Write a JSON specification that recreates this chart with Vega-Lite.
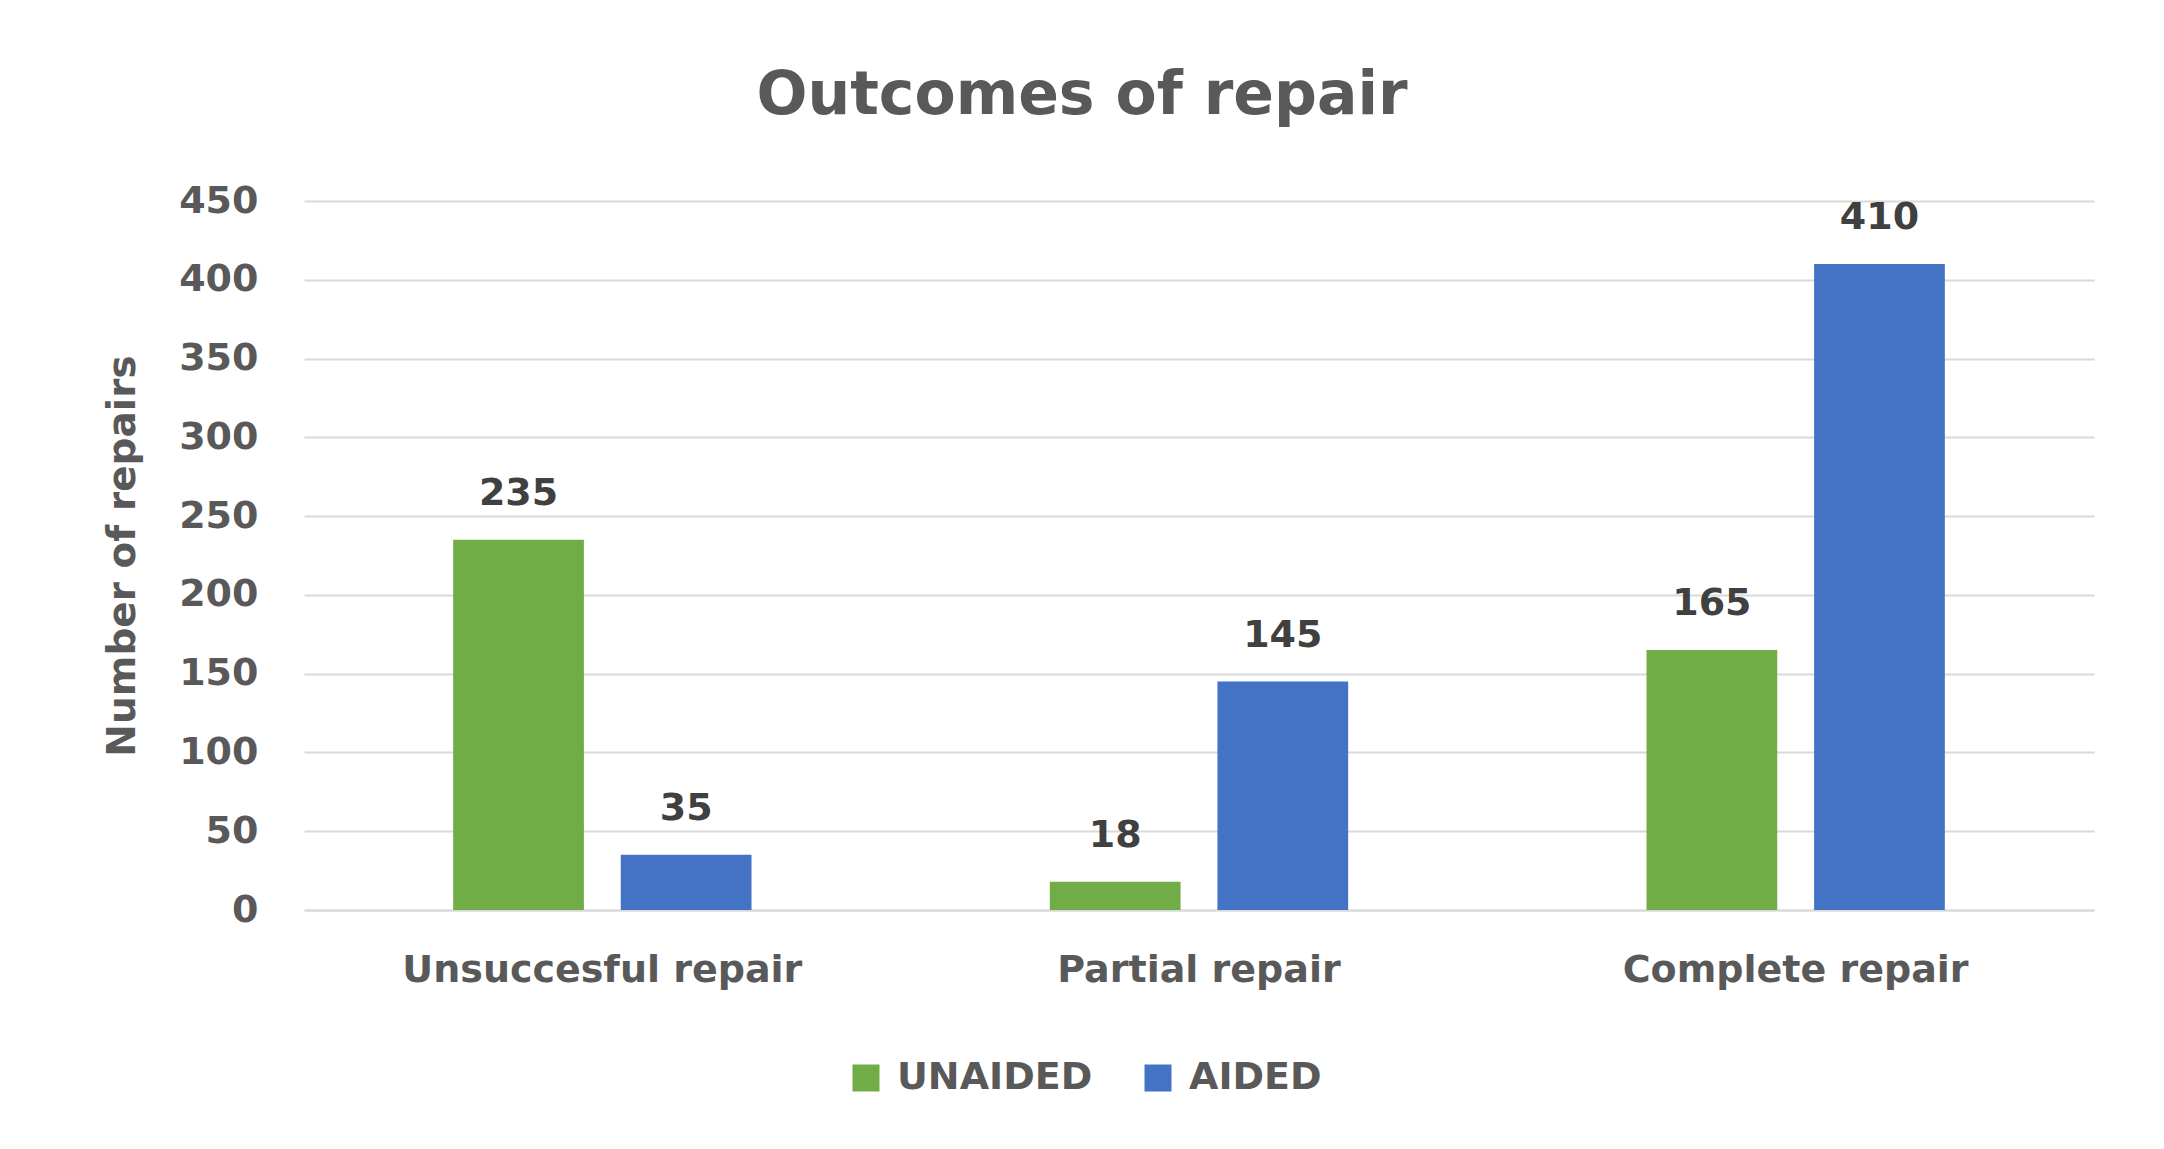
{
  "$schema": "https://vega.github.io/schema/vega-lite/v6.json",
  "width": 1790,
  "height": 709,
  "autosize": {"type": "none"},
  "padding": {"left": 304, "top": 201, "right": 70, "bottom": 239},
  "background": "white",
  "title": {
    "text": "Outcomes of repair",
    "anchor": "middle",
    "font": "DejaVu Sans",
    "fontSize": 60,
    "fontWeight": "bold",
    "color": "#595959",
    "dx": -117,
    "offset": 55
  },
  "data": {
    "values": [
      {"outcome": "Unsuccesful repair", "group": "UNAIDED", "count": 235},
      {"outcome": "Unsuccesful repair", "group": "AIDED", "count": 35},
      {"outcome": "Partial repair", "group": "UNAIDED", "count": 18},
      {"outcome": "Partial repair", "group": "AIDED", "count": 145},
      {"outcome": "Complete repair", "group": "UNAIDED", "count": 165},
      {"outcome": "Complete repair", "group": "AIDED", "count": 410}
    ]
  },
  "encoding": {
    "x": {
      "field": "outcome",
      "type": "nominal",
      "sort": ["Unsuccesful repair", "Partial repair", "Complete repair"],
      "scale": {"paddingInner": 0.5, "paddingOuter": 0.25},
      "axis": {
        "title": null,
        "labelAngle": 0,
        "labelLimit": 0,
        "labelFont": "DejaVu Sans",
        "labelFontSize": 38,
        "labelFontWeight": "bold",
        "labelColor": "#595959",
        "labelPadding": 41,
        "ticks": false,
        "domain": true,
        "domainColor": "#D9D9D9",
        "domainWidth": 2
      }
    },
    "xOffset": {
      "field": "group",
      "type": "nominal",
      "sort": ["UNAIDED", "AIDED"],
      "scale": {"paddingInner": 0.22, "paddingOuter": 0}
    },
    "y": {
      "field": "count",
      "type": "quantitative",
      "scale": {"domain": [0, 450], "nice": false},
      "axis": {
        "values": [0, 50, 100, 150, 200, 250, 300, 350, 400, 450],
        "title": "Number of repairs",
        "titleFont": "DejaVu Sans",
        "titleFontSize": 39,
        "titleFontWeight": "bold",
        "titleColor": "#595959",
        "titlePadding": 36,
        "labelFont": "DejaVu Sans",
        "labelFontSize": 38,
        "labelFontWeight": "bold",
        "labelColor": "#595959",
        "labelPadding": 46,
        "ticks": false,
        "domain": false,
        "grid": true,
        "gridColor": "#D9D9D9",
        "gridWidth": 2
      }
    }
  },
  "layer": [
    {
      "mark": {"type": "bar"},
      "encoding": {
        "color": {
          "field": "group",
          "type": "nominal",
          "sort": ["UNAIDED", "AIDED"],
          "scale": {"domain": ["UNAIDED", "AIDED"], "range": ["#70AD47", "#4472C4"]},
          "legend": {
            "orient": "none",
            "direction": "horizontal",
            "legendX": 543,
            "legendY": 858,
            "title": null,
            "padding": 0,
            "symbolType": "square",
            "symbolSize": 729,
            "symbolStrokeWidth": 0,
            "labelFont": "DejaVu Sans",
            "labelFontSize": 38,
            "labelFontWeight": "bold",
            "labelColor": "#595959",
            "labelLimit": 0,
            "labelOffset": 12,
            "columnPadding": 46
          }
        }
      }
    },
    {
      "mark": {
        "type": "text",
        "dy": -35,
        "baseline": "alphabetic",
        "font": "DejaVu Sans",
        "fontSize": 38,
        "fontWeight": "bold",
        "color": "#404040"
      },
      "encoding": {
        "text": {"field": "count", "type": "quantitative"}
      }
    }
  ],
  "config": {"view": {"stroke": null}}
}
